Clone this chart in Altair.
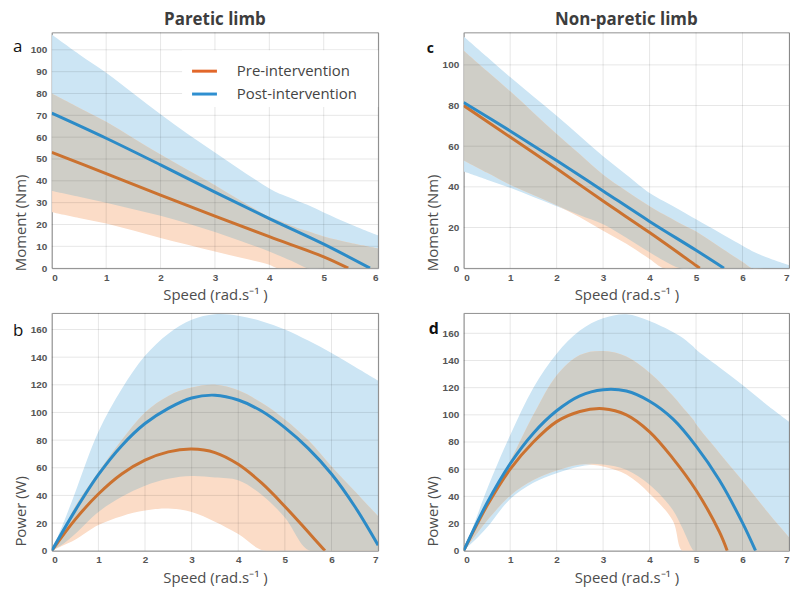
import altair as alt
import pandas as pd
import numpy as np

# ---------------- data ----------------
# Panel a : paretic limb, moment
a_x = [0, 0.5, 1, 1.5, 2, 2.5, 3, 3.5, 4, 4.15, 4.5, 4.7, 5, 5.5, 6]
a_pre_lo = [25.6, 23, 20.4, 17.2, 13.8, 10.7, 7.6, 4.6, 1.6, 0, 0, 0, 0, 0, 0]
a_pre_hi = [80, 73.5, 67, 59.5, 52, 45, 38, 30.5, 23.5, 22, 18.5, 17, 14.5, 11.5, 9]
a_post_lo = [35.3, 32.7, 30, 27, 24, 20.5, 16.6, 12.2, 7.6, 6, 2.3, 0, 0, 0, 0]
a_post_hi = [107, 98, 89.5, 80, 70.5, 61.5, 53, 44.5, 36.5, 34.5, 31, 29, 25.5, 20, 15]
a_pre_x = [0, 1, 2, 3, 4, 5, 5.45]
a_pre = [53, 43.3, 33.5, 23.8, 14.4, 5.2, 0]
a_post_x = [0, 1, 2, 3, 4, 5, 5.85]
a_post = [71, 59.5, 47.3, 34.8, 22.7, 11, 0]

# Panel c : non-paretic limb, moment
c_x = [0, 0.5, 1, 1.5, 2, 2.5, 3, 3.5, 4, 4.3, 4.66, 5, 5.5, 6, 6.2, 6.5, 7]
c_pre_lo = [53, 47, 41, 36, 31, 25, 18.4, 12, 4.5, 0, 0, 0, 0, 0, 0, 0, 0]
c_pre_hi = [107, 97, 87, 76.5, 66, 56, 46, 38, 30.5, 26.5, 22, 18, 10.5, 3, 0, 0, 0]
c_post_lo = [47.5, 43.5, 39.5, 35, 30.5, 26, 21.6, 15, 7.8, 3.8, 0, 0, 0, 0, 0, 0, 0]
c_post_hi = [114, 104, 94, 84.5, 75, 65, 55, 46, 37, 33, 28.5, 24, 17.5, 11, 8.5, 5.5, 1.5]
c_pre_x = [0, 1, 2, 3, 4, 5, 5.08]
c_pre = [80, 64.5, 49, 33, 17.5, 1.3, 0]
c_post_x = [0, 1, 2, 3, 4, 5, 5.6]
c_post = [81.5, 67.5, 53, 38, 23, 8.8, 0]

# Panel b : paretic limb, power
b_x = [0, 0.25, 0.5, 1, 1.5, 2, 2.5, 3, 3.5, 4, 4.5, 5, 5.5, 6, 6.5, 7]
b_pre_lo = [0, 4, 8, 18.6, 25, 29, 30.5, 28, 21, 12, 0.5, 0, 0, 0, 0, 0]
b_pre_hi = [0, 15, 32, 57, 80, 100, 112, 118, 120, 116, 107, 95, 80, 61, 43, 25]
b_post_lo = [0, 5, 12, 28, 39, 47, 52, 54, 53, 51, 40.5, 24, 0.5, 0, 0, 0]
b_post_hi = [0, 20, 42, 86, 117, 141, 157, 167, 171, 170, 166, 160, 152, 143, 133, 123]
b_pre_x = [0, 0.5, 1, 1.5, 2, 2.5, 3, 3.5, 4, 4.5, 5, 5.5, 5.86]
b_pre = [0, 22.5, 41, 55.5, 65.5, 71.5, 73.5, 71, 62.5, 49, 32, 13.5, 0]
b_post_x = [0, 0.5, 1, 1.5, 2, 2.5, 3, 3.5, 4, 4.5, 5, 5.5, 6, 6.5, 7]
b_post = [0, 29, 55, 76, 92, 103, 110.5, 112.5, 109, 101, 89, 74, 55.5, 32, 4]

# Panel d : non-paretic limb, power
d_x = [0, 0.25, 0.5, 1, 1.5, 2, 2.5, 3, 3.5, 4, 4.5, 4.7, 4.95, 5, 5.5, 6, 6.5, 7]
d_pre_lo = [0, 11, 22, 40.5, 52, 59, 63.5, 62, 56, 42, 22, 0, 0, 0, 0, 0, 0, 0]
d_pre_hi = [0, 17, 35, 66, 100, 129, 144, 147, 143, 131, 114, 106, 96, 93, 72, 51.5, 30, 10]
d_post_lo = [0, 8, 17, 38, 50, 57, 62, 63.5, 59.5, 48.5, 30, 17, 0, 0, 0, 0, 0, 0]
d_post_hi = [0, 22, 45, 85, 120, 145, 162, 171, 174, 169, 161, 157, 150, 148, 135, 122, 108, 95]
d_pre_x = [0, 0.5, 1, 1.5, 2, 2.5, 3, 3.5, 4, 4.5, 5, 5.5, 5.67]
d_pre = [0, 33, 60, 80, 95, 102.5, 104.5, 100, 87.5, 68, 44.5, 14, 0]
d_post_x = [0, 0.5, 1, 1.5, 2, 2.5, 3, 3.5, 4, 4.5, 5, 5.5, 6, 6.28]
d_post = [0, 35, 64, 86.5, 103, 114, 118.5, 117.5, 110, 97, 77, 52, 20.5, 0]

# ---------------- styling ----------------
BLUE_BAND = "#CCE5F4"
ORANGE_BAND = "#FBDCC7"
GRAY_BAND = "#CFCEC7"
PRE_LINE = "#CB7230"
POST_LINE = "#2C8BC7"
LEG_PRE = "#E2672A"
LEG_POST = "#2F8FD0"
FONT = "Open Sans"
XTITLE = "Speed (rad.s\u207b\u00b9 )"
CURVE = "catmull-rom"


def txt(s):
    return pd.DataFrame({"t": [s]})


def panel(xv, pre_lo, pre_hi, post_lo, post_hi, pre_x, pre_y, post_x, post_y,
          xmax, ymax, ystep, ytitle, w, h, label, lab_x, lab_y, lab_size, lab_weight,
          ytitle_center, title=None, legend=False):
    band = pd.DataFrame({
        "x": xv, "pre_lo": pre_lo, "pre_hi": pre_hi,
        "post_lo": post_lo, "post_hi": post_hi,
    })
    band["ov_lo"] = np.maximum(band["pre_lo"], band["post_lo"])
    band["ov_hi"] = np.maximum(np.minimum(band["pre_hi"], band["post_hi"]), band["ov_lo"])

    xticks = list(range(0, xmax + 1))
    yticks = list(range(0, int(ymax) + 1, ystep))

    xs = alt.Scale(domain=[0, xmax], nice=False, zero=False)
    ys = alt.Scale(domain=[0, ymax], nice=False, zero=False)
    xaxis = alt.Axis(values=xticks, title=XTITLE, grid=False, domain=False, ticks=False,
                     labelPadding=4, labelFont="Liberation Sans", labelFontSize=10,
                     labelFontWeight="bold", labelColor="#555555",
                     titleFont=FONT, titleFontSize=15, titleFontWeight="normal",
                     titleColor="#4d4d4d", titleY=27, titleBaseline="middle")
    yaxis = alt.Axis(values=yticks, title=ytitle, grid=False, domain=False, ticks=False,
                     labelPadding=5, labelFont="Liberation Sans", labelFontSize=10,
                     labelFontWeight="bold", labelColor="#555555",
                     titleFont=FONT, titleFontSize=15, titleFontWeight="normal",
                     titleColor="#4d4d4d", titleX=-31, titleY=ytitle_center,
                     titleBaseline="middle", titleAlign="center")
    X = alt.X("x:Q", scale=xs, axis=xaxis)

    def area(lo, hi, col):
        return alt.Chart(band).mark_area(color=col, interpolate=CURVE, clip=True).encode(
            x=X, y=alt.Y(f"{lo}:Q", scale=ys, axis=yaxis), y2=f"{hi}:Q")

    layers = [
        area("post_lo", "post_hi", BLUE_BAND),
        area("pre_lo", "pre_hi", ORANGE_BAND),
        area("ov_lo", "ov_hi", GRAY_BAND),
        alt.Chart(pd.DataFrame({"g": xticks})).mark_rule(
            color="#000000", opacity=0.1, strokeWidth=1).encode(
            x=alt.X("g:Q", scale=xs, axis=xaxis)),
        alt.Chart(pd.DataFrame({"g": yticks})).mark_rule(
            color="#000000", opacity=0.1, strokeWidth=1).encode(
            y=alt.Y("g:Q", scale=ys, axis=yaxis)),
        alt.Chart(pd.DataFrame({"x": pre_x, "y": pre_y})).mark_line(
            color=PRE_LINE, strokeWidth=3, interpolate=CURVE, clip=True).encode(
            x=X, y=alt.Y("y:Q", scale=ys, axis=yaxis)),
        alt.Chart(pd.DataFrame({"x": post_x, "y": post_y})).mark_line(
            color=POST_LINE, strokeWidth=3, interpolate=CURVE, clip=True).encode(
            x=X, y=alt.Y("y:Q", scale=ys, axis=yaxis)),
        alt.Chart(txt(label)).mark_text(
            align="left", baseline="middle", font=FONT, fontSize=lab_size,
            fontWeight=lab_weight, color="#111111").encode(
            x=alt.value(lab_x), y=alt.value(lab_y), text="t:N"),
    ]
    if title is not None:
        layers.append(alt.Chart(txt(title)).mark_text(
            align="center", baseline="middle", font=FONT, fontSize=17,
            fontWeight="bold", color="#3d3d3d").encode(
            x=alt.value(w / 2), y=alt.value(-12), text="t:N"))
    if legend:
        layers.append(alt.Chart(txt("")).mark_rect(fill="white").encode(
            x=alt.value(131), x2=alt.value(w), y=alt.value(18), y2=alt.value(75)))
        for lab, col, yy in [("Pre-intervention", LEG_PRE, 39),
                             ("Post-intervention", LEG_POST, 62)]:
            layers.append(alt.Chart(txt(lab)).mark_rule(color=col, strokeWidth=3).encode(
                x=alt.value(141), x2=alt.value(166), y=alt.value(yy)))
            layers.append(alt.Chart(txt(lab)).mark_text(
                align="left", baseline="middle", font=FONT, fontSize=15,
                color="#444444").encode(
                x=alt.value(186), y=alt.value(yy), text="t:N"))
    return alt.layer(*layers).properties(width=w, height=h)


pa = panel(a_x, a_pre_lo, a_pre_hi, a_post_lo, a_post_hi, a_pre_x, a_pre, a_post_x, a_post,
           6, 108, 10, "Moment (Nm)", 328, 237, "a", -39, 15, 17, "normal",
           237 - 46, title="Paretic limb", legend=True)
pc = panel(c_x, c_pre_lo, c_pre_hi, c_post_lo, c_post_hi, c_pre_x, c_pre, c_post_x, c_post,
           7, 116, 20, "Moment (Nm)", 327, 237, "c", -37, 17, 14, "bold",
           237 - 46, title="Non-paretic limb")
pb = panel(b_x, b_pre_lo, b_pre_hi, b_post_lo, b_post_hi, b_pre_x, b_pre, b_post_x, b_post,
           7, 172, 20, "Power (W)", 328, 239, "b", -39, 18, 17, "normal",
           239 - 40)
pd_ = panel(d_x, d_pre_lo, d_pre_hi, d_post_lo, d_post_hi, d_pre_x, d_pre, d_post_x, d_post,
            7, 175, 20, "Power (W)", 327, 239, "d", -35, 16, 16, "bold",
            239 - 40)

chart = alt.concat(pa, pc, pb, pd_, columns=2,
                   spacing={"row": 45, "column": 86}, bounds="flush").properties(
    padding={"left": 4, "top": 1, "right": 2, "bottom": 1}
).configure_view(stroke="#8f8f8f", strokeWidth=1)

chart.save("out.html", embed_options={"renderer": "svg", "actions": False})
